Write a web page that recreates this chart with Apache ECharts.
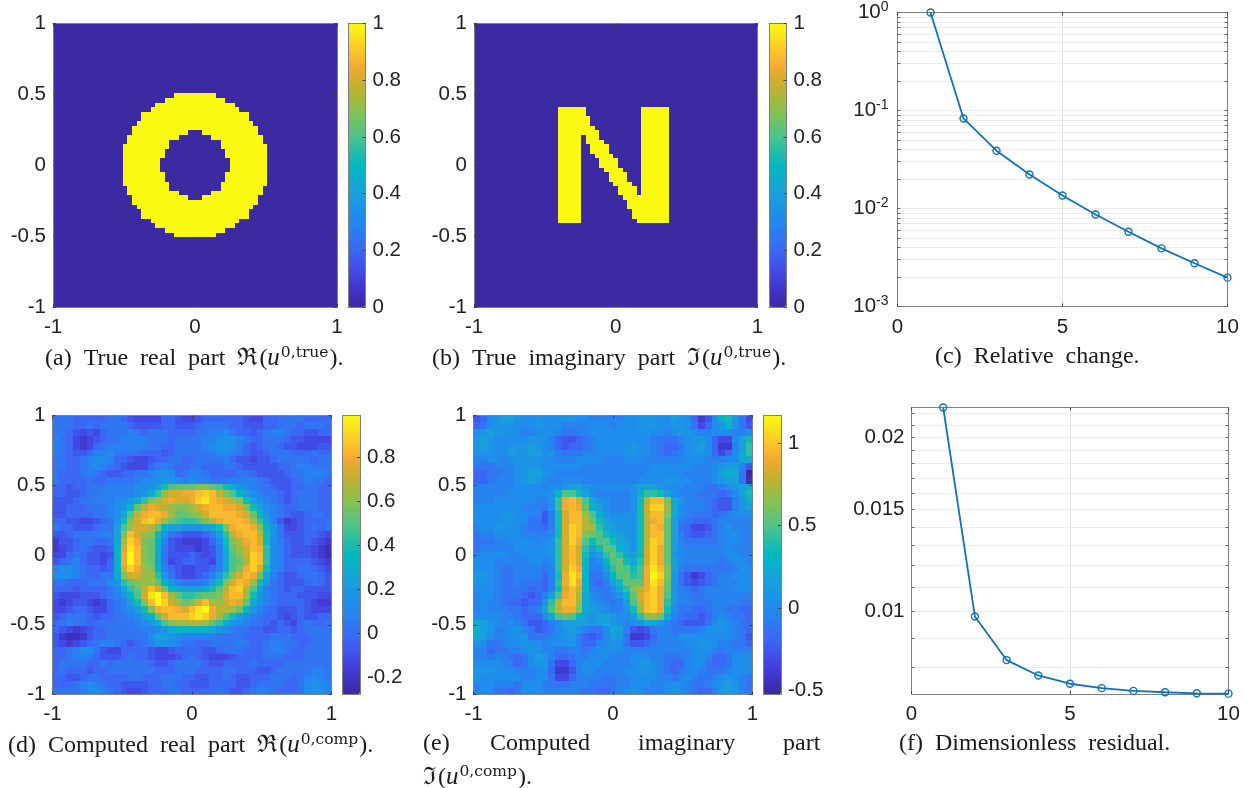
<!DOCTYPE html>
<html><head><meta charset="utf-8">
<script src="https://cdn.jsdelivr.net/npm/echarts@6/dist/echarts.min.js"></script>
<style>html,body{margin:0;padding:0;background:#fff}#c{width:1255px;height:788px}</style>
</head><body><div id="c"></div>
<script>
// ---- data ----
const iterations = [1,2,3,4,5,6,7,8,9,10];
const relativeChange = [1,0.083,0.0389,0.0222,0.01356,0.00869,0.00579,0.00392,0.00276,0.00197];
const residual = [0.0225,0.0098,0.00824,0.00775,0.0075,0.00737,0.00729,0.00725,0.00722,0.00721];
const relMajorTicks = [0.001,0.01,0.1,1];
const relAllTicks = [0.001,0.002,0.003,0.004,0.005,0.006,0.007,0.008,0.009,0.01,0.02,0.03,0.04,0.05,0.06,0.07,0.08,0.09,0.1,0.2,0.3,0.4,0.5,0.6,0.7,0.8,0.9,1];
const resMajorTicks = [0.01,0.015,0.02];
const resAllTicks = [0.008,0.009,0.01,0.011,0.012,0.013,0.014,0.015,0.016,0.017,0.018,0.019,0.02,0.021,0.022];
const barTicksTrue = [0,0.2,0.4,0.6,0.8,1];
const barTicksReal = [-0.2,0,0.2,0.4,0.6,0.8];
const barTicksImag = [-0.5,0,0.5,1];
// true real part: width of the filled ring and of its hole, per row, rows 15..45 of 61
const ringFirstRow = 15;
const ringWidths = [9,13,17,19,23,23,25,27,27,29,29,31,31,31,31,31,31,31,31,31,29,29,27,27,25,23,23,19,17,13,9];
const holeWidths = [0,0,0,0,0,0,0,0,3,7,11,11,13,13,15,15,15,13,13,11,11,7,3,0,0,0,0,0,0,0,0];
// true imaginary part: [row, first column, end column] runs on the 61 grid
const letterRuns = [
[18,18,24],[18,36,42],[19,18,24],[19,36,42],[20,18,25],[20,36,42],[21,18,25],[21,36,42],
[22,18,26],[22,36,42],[23,18,27],[23,36,42],[24,18,23],[24,24,27],[24,36,42],[25,18,23],[25,24,28],[25,36,42],
[26,18,23],[26,25,29],[26,36,42],[27,18,23],[27,25,29],[27,36,42],[28,18,23],[28,26,30],[28,36,42],
[29,18,23],[29,27,31],[29,36,42],[30,18,23],[30,27,31],[30,36,42],[31,18,23],[31,28,32],[31,36,42],
[32,18,23],[32,29,33],[32,36,42],[33,18,23],[33,29,33],[33,36,42],[34,18,23],[34,30,34],[34,36,42],
[35,18,23],[35,31,35],[35,36,42],[36,18,23],[36,31,35],[36,36,42],[37,18,23],[37,32,42],[38,18,23],[38,33,42],
[39,18,23],[39,33,42],[40,18,23],[40,34,42],[41,18,23],[41,34,42],[42,18,23],[42,35,42]];
// computed fields, 41 x 41 cells; letter a..z = position between the colour-bar ends
const computedReal = [
"gggfffffgg feddddffed deffffffed dffggggfff f",
"gggffgfggg gfeeeeffee efggggffee effgggfggg f",
"ggfededfgg ghgfgggfff fgghhigffe fghhgffeef f",
"hgfdcdefgg hhhhgggfgg gghhijjhgf fgggfeeddd d",
"hgfdcdfghh hhhhggffgg gghijjihfe fggfeeddde e",
"hgfeefhhig gggfffefgg ggghiihgfe efgggfffgf f",
"ggffghiihf feddeffggf fgggghfeed eefgggggfg g",
"ggffghihgf edddfghgff ggfffggfee eeeffghhgg g",
"gfffghgfee ffgghijifg hhgffffggf eeeefgghhh g",
"gffffgffgg gghiiijjih ihhggghhhh gfeeefghgg f",
"ffeffggghh hhiijknpqq qrrqpnljih ggfeeffggf f",
"ffeefgghhh hhijlosuuv vwxwtrpmki hggfefgggf f",
"eeefgghhhi ijlorsuvuu vxywvutrnk ihgfefgggf f",
"eefffggghi jmqtvutsrr suvwwvvurn kihgffgggf f",
"eeffffgghi lptvwwvsqq rsuwwwwvuq mjhgfeefgg f",
"ffeeddefgj nruwxvsqpo oprtvwwwvs okhecdefff g",
"gffeeefggk psuutqmkkj jjklnrvwwv rmjgddefgf g",
"eefgggghhk rwusrnjgfe eefhkotvww tnjgeeeffe d",
"ceefggffgl txvrqmhedc ccdfinrtvw unihfeefed c",
"cdefgfeefm uywrqlgedd dcdehmqsuw voihfeeedc b",
"ddfgfeedem vzwrqlgeee fedehlprux woihfeeedc b",
"efghfeedfm vzwrqlgdef feedhlpqtx woihffffed c",
"hiihgffefm uxvsrmhfed deefhlprvx unihffggfe d",
"iiihgffggl ruussojged defhkoruwv qlhfeefggf e",
"ggfffgggij oqrssqmjhg gghknruwvs njgfeeefgf e",
"fffeffffgi loqtwuqmlk kklnqtwxtp khgfeffeee e",
"edddeeefgh jmpuyzwsqo opqqruwwsn jhgfffeeed d",
"dcdeedcdfg hknrwzxusq ruwssuvuql ihgffffedc c",
"ddeffeddfg hiknrvwwvu wyzvttsqmj hgfeeefedd d",
"efgggfeffg ghikmquwww xyxvspnkih gffedefeef f",
"fghggffggg gghijmprss ttsqoljihg gfefedfgff g",
"fedcdeffgg ggghhijlmm mmmljihggf feeffefggg g",
"ecbbceffgg ggggikkjih hhhhggggff ffgggfffgg g",
"edcdefghhg fefghjjihg gffgggghgf fghhggffgg g",
"ffghiigedd ffffeddeff ffeefgggff fghhgffggg g",
"ffghhhfeee fgffedddef gfedddefff fgggfffggg g",
"fggggffgfg ggggfeefgg ggfeeffffg ffffgggggg g",
"fgfffeffgg gggggfffgg gffffggfff eefggggghh g",
"ffeefggfff fggfffgggf feeffgfeef ffgggfghih g",
"fffghihgff eeeeffggff eeeffffeef ggggffgiji h",
"gggghiihgf eddefffggf ffffgfeefg hhgfffgiji h"
];
const computedImag = [
"efijkkjiij iiijjiihhh hhiijjjiik jifceimnjg d",
"fgijjjiiij iiihhhhiii hiiijjjiij jigdfijmjg e",
"ijkjjiihhi iihgghhiii iiiiijiihi jjihhiiihh i",
"jkjiiiiijj ihfeefghii iiiiiihggg hijjifddik n",
"jkjiijjjkj ihfeffghii iiijiihgff gijkifcchk o",
"jjjiikjjkk ijhggghhii iijjiihgfg hijjifdfil o",
"hhiihijjjj iihhhiiiih hhiiihhhhh hiiihhhiil l",
"ggghhhijjj iiiiiihhhh hhhhhhiiii iihhhijkkh e",
"ffgghhijkk jihhhhhhhh hhhhhiiiii ihhhhikmlg a",
"ffghhhijkj ihhiiihhhh hhhhiiiijj iihhhijkkg b",
"hhhhhhiiii hiijkkjiii iiijkkkjii ihhhgghijk l",
"hhhhhiiiii ijmppnkihh hhhiloonki hhhgggfgik n",
"hhhiiiiiih hjovwuplji hhhintwwrl jhhhgfeehj m",
"iiiiiiihhh giovwvqmki hhhinuxxsl ihhhgfeehj k",
"iiiijjiihh ehnuwwsplj iiijntwwrl ihgggfghii i",
"iiiijjiigg ehnuwwtqnk jjjjntvwqk hgfffghhhh h",
"hiijjiihgg fhnuxwtsol kjjjntwvqk gfddeghihh h",
"ghhiiiihhh hinuxwrqpn lkjjntwwqk hfeefghiih h",
"ggghhiiiih ijouxvpnpp nlkjntxwqk hggggghiih h",
"ghhhhhiiii ijouwuoknq pmkjnuxvqk ihhhhhhihh h",
"hiiiihhiii ijouwuniko qolknuxvqj ihhhhhhiih h",
"iiihhhhhii hiouwumhim pqnlouxvqk ihhhhhghii h",
"iiihgghhhh ghouxvmhhk oqpnpvywrk hggggggghi i",
"jjihgghhhh fhnvywmggi mpqopvzxrj gecdfghhii i",
"jjihgghggg fhovyvmgfh knqqqvywqj gedefghhhi i",
"iiihggggfg fhnuwumhgg ilortvxvqj hgfghhhhii i",
"hiihgggfef hkpvwtlihg hjmquwxvpj hhgghhhhhh h",
"hihhgffeff jotwwsljih ghkptwxvoj hhggghhhhg g",
"hihhhggfgh kptvvrlkji hhjnswxvni ggffghhggf f",
"iiiihhgfff ilpqpmkjkk jiikorsqlh gffefhihgg f",
"lkjihihgee fhikkkkjkk jihijlljhg feeegijihg f",
"mkjhhijhge fgijkjhggi lkhedeghhg ggghijjihg f",
"lkihhiijgg ghijjhfefi kjgccdfhhh iiiiiiiihg e",
"jigghiijii hiiijhffhi jigeefghhh hiijjihhgg f",
"hhfgghhijj hhgghhghii iihhhhhhhh hhiiihghhh h",
"hhghhgfgik jhffghhiii hhhiiihhgg ghiihffgii i",
"iiiihhfgij jgddfhiiih hhhijjihgf fhiigffgii i",
"jjjiiihhhi ifccehiihh hhiijjihgf ghihggghii i",
"jiiiiiihhi igddfhhhhg ghhiiiihhg hihgghijih g",
"hiihhhgiii hggghhhggg ghhiiihhii ihgghijkjh g",
"hiiggfgiii hhhhhhggff ghijihhhij ihgffhjkjh g"
];
// ---- layout and styles ----
const TF = 'Liberation Sans', SF = 'Liberation Serif';
const parula = ['#3b2aa2','#3f32c0','#4340dd','#3f54ec','#3a68f5','#2f78f2','#2188ee','#1c94e6','#1a9fdc','#0eacce','#03b8bf','#25bea6','#4cc38a','#6cc26c','#8ec04c','#b0b63a','#d4ad2c','#f6ab34','#fcc42a','#fae01e','#f9f911'];
const AX = '#808080', TK = '#444';
const labelStyle = {color:'#222',fontFamily:TF,fontSize:20.5};
const opt = {animation:false,backgroundColor:'#fff',grid:[],xAxis:[],yAxis:[],series:[],visualMap:[],title:[]};
const cellIndex = n => Array.from({length:n},(_,i)=>i);

function valueAxis(gi,pos,extra){
  return Object.assign({type:'value',gridIndex:gi,position:pos,z:6,
    axisLine:{show:true,onZero:false,lineStyle:{color:AX,width:1}},
    axisTick:{show:true,inside:true,length:3,lineStyle:{color:TK,width:1}},
    axisLabel:{show:false},splitLine:{show:false}},extra);
}
const shown = m => ({axisLabel:Object.assign({show:true,margin:m},labelStyle,{hideOverlap:false,showMinLabel:true,showMaxLabel:true})});

function renderCell(params,api){
  const p = api.coord([api.value(0),api.value(1)]);
  const s = api.size([1,1]);
  const w = Math.abs(s[0])/2, h = Math.abs(s[1])/2;
  const x0 = Math.round(p[0]-w), x1 = Math.round(p[0]+w), y0 = Math.round(p[1]-h), y1 = Math.round(p[1]+h);
  return {type:'rect',shape:{x:x0,y:y0,width:x1-x0,height:y1-y0},style:{fill:api.visual('color')},silent:true};
}

function heatPanel(rect,bar,cells,n,vmin,vmax,barTicks){
  const gi = opt.grid.length;
  opt.grid.push({left:rect[0],top:rect[1],width:rect[2],height:rect[3],containLabel:false});
  const xi = opt.xAxis.length, yi = opt.yAxis.length;
  const cats = cellIndex(n);
  opt.xAxis.push({type:'category',gridIndex:gi,data:cats,show:false});
  opt.yAxis.push({type:'category',gridIndex:gi,data:cats,show:false,inverse:true});
  const xl = shown(n===61?10:9), yl = shown(7);
  opt.xAxis.push(valueAxis(gi,'bottom',Object.assign({min:-1,max:1,interval:1},xl)));
  opt.xAxis.push(valueAxis(gi,'top',{min:-1,max:1,interval:1}));
  opt.yAxis.push(valueAxis(gi,'left',Object.assign({min:-1,max:1,interval:0.5},yl)));
  opt.yAxis.push(valueAxis(gi,'right',{min:-1,max:1,interval:0.5}));
  const si = opt.series.length;
  opt.series.push({type:'custom',xAxisIndex:xi,yAxisIndex:yi,data:cells,silent:true,clip:true,progressive:0,
    renderItem:renderCell,encode:{x:0,y:1},z:2});
  opt.visualMap.push({type:'continuous',seriesIndex:si,dimension:2,min:vmin,max:vmax,left:bar[0],top:bar[1],
    itemWidth:bar[2],itemHeight:bar[3],padding:0,showLabel:false,text:null,calculable:false,realtime:false,
    hoverLink:false,inRange:{color:parula},textStyle:{fontSize:0}});
  // colour-bar axis
  const gb = opt.grid.length;
  opt.grid.push({left:bar[0],top:bar[1],width:bar[2],height:bar[3]});
  opt.xAxis.push({type:'value',gridIndex:gb,min:0,max:1,show:false});
  opt.yAxis.push(valueAxis(gb,'right',{min:vmin,max:vmax,z:8,
    axisTick:{show:true,inside:true,length:3,customValues:barTicks,lineStyle:{color:TK,width:1}},
    axisLabel:Object.assign({show:true,margin:7,customValues:barTicks},labelStyle)}));
  opt.xAxis.push({type:'value',gridIndex:gb,min:0,max:1,position:'top',show:true,z:8,axisTick:{show:false},axisLabel:{show:false},splitLine:{show:false},axisLine:{onZero:false,lineStyle:{color:AX}}});
  opt.xAxis.push({type:'value',gridIndex:gb,min:0,max:1,position:'bottom',show:true,z:8,axisTick:{show:false},axisLabel:{show:false},splitLine:{show:false},axisLine:{onZero:false,lineStyle:{color:AX}}});
  opt.yAxis.push({type:'value',gridIndex:gb,min:vmin,max:vmax,position:'left',z:8,axisTick:{show:false},axisLabel:{show:false},splitLine:{show:false},axisLine:{show:true,onZero:false,lineStyle:{color:AX}}});
}

function linePanel(rect,values,ymin,ymax,major,all,fmt,richLab,ym){
  const gi = opt.grid.length;
  opt.grid.push({left:rect[0],top:rect[1],width:rect[2],height:rect[3]});
  const xi = opt.xAxis.length, yi = opt.yAxis.length;
  opt.xAxis.push(valueAxis(gi,'bottom',Object.assign({min:0,max:10,interval:5,
    splitLine:{show:true,lineStyle:{color:'#e2e2e2',width:1}}},shown(10))));
  opt.xAxis.push(valueAxis(gi,'top',{min:0,max:10,interval:5}));
  const logAxis = (pos,lab) => ({type:'log',logBase:10,gridIndex:gi,position:pos,min:ymin,max:ymax,z:6,
    axisLine:{show:true,onZero:false,lineStyle:{color:AX,width:1}},
    axisTick:{show:true,inside:true,length:3,customValues:all,lineStyle:{color:'#666',width:1}},
    splitLine:{show:lab,lineStyle:{color:'#ececec',width:1}},
    axisLabel:lab?Object.assign({show:true,margin:ym,customValues:major,formatter:fmt,rich:richLab},labelStyle):{show:false}});
  opt.yAxis.push(logAxis('left',true));
  opt.yAxis.push(logAxis('right',false));
  opt.series.push({type:'line',xAxisIndex:xi,yAxisIndex:yi,clip:false,silent:true,
    data:iterations.map((x,i)=>[x,values[i]]),symbol:'circle',symbolSize:7,showAllSymbol:true,
    lineStyle:{color:'#0f72bd',width:1.8},itemStyle:{color:'rgba(0,0,0,0)',borderColor:'#0f72bd',borderWidth:1.4},z:9});
}

function caption(text,x,y){
  opt.title.push({text,left:x,top:y,padding:0,textStyle:{fontFamily:SF,fontSize:24,fontWeight:'normal',color:'#1a1a1a',
    rich:{r:{fontFamily:SF,fontSize:24,color:'#1a1a1a'},
      m:{fontFamily:'DejaVu Serif',fontSize:24,color:'#1a1a1a',padding:[0,2,0,0]},
      i:{fontFamily:SF,fontStyle:'italic',fontSize:25,color:'#1a1a1a'},
      s:{fontFamily:'DejaVu Serif',fontSize:15.5,color:'#1a1a1a',padding:[0,1,11,1]}}}});
}

// ---- build cells from the named arrays ----
const realCells=[], imagCells=[];
{
  const a = cellIndex(61).map(()=>new Array(61).fill(0));
  ringWidths.forEach((w,k)=>{
    const h = holeWidths[k], r = ringFirstRow+k;
    for(let c=30-(w-1)/2;c<=30+(w-1)/2;c++) a[r][c]=1;
    if(h) for(let c=30-(h-1)/2;c<=30+(h-1)/2;c++) a[r][c]=0;
  });
  a.forEach((row,r)=>row.forEach((v,c)=>realCells.push([c,r,v])));
  const b = cellIndex(61).map(()=>new Array(61).fill(0));
  letterRuns.forEach(([r,s,e])=>{for(let c=s;c<e;c++) b[r][c]=1;});
  b.forEach((row,r)=>row.forEach((v,c)=>imagCells.push([c,r,v])));
}
const decode = (rows,vmin,vmax)=>{
  const out=[];
  rows.forEach((t,r)=>{
    const s=t.replace(/\s/g,'');
    for(let c=0;c<41;c++){
      const ch=s[Math.min(c,s.length-1)];
      out.push([c,r,+(vmin+(ch.charCodeAt(0)-97)/25*(vmax-vmin)).toFixed(3)]);
    }
  });
  return out;
};

heatPanel([53,23.5,284,283.5],[348,23.5,17.5,283.5],realCells,61,0,1,barTicksTrue);
heatPanel([474,23.5,283.5,283.5],[769,23.5,17.5,283.5],imagCells,61,0,1,barTicksTrue);
heatPanel([52.5,415.5,279,279],[342.5,415.5,17.5,279],decode(computedReal,-0.276,0.99),41,-0.276,0.99,barTicksReal);
heatPanel([473.5,415.5,279,279],[763.5,415.5,17.5,279],decode(computedImag,-0.524,1.166),41,-0.524,1.166,barTicksImag);

const powFmt = v => '{b|10}{s|'+Math.round(Math.log10(v))+'}';
const powRich = {b:{fontFamily:TF,fontSize:20.5,color:'#222'},s:{fontFamily:TF,fontSize:14,color:'#222',padding:[0,0,11,0]}};
linePanel([897.5,11.5,330,295],relativeChange,0.001,1,relMajorTicks,relAllTicks,powFmt,powRich,9);
linePanel([911.5,407.5,317,286.5],residual,0.0072,0.0225,resMajorTicks,resAllTicks,v=>String(+v.toFixed(3)),undefined,7);

caption('{r|(a)  True  real  part  }{m|ℜ}{r|(}{i|u}{s|0,true}{r|).}',45,345);
caption('{r|(b)  True  imaginary  part  }{m|ℑ}{r|(}{i|u}{s|0,true}{r|).}',432,345);
caption('{r|(c)  Relative  change.}',935,345);
caption('{r|(d)  Computed  real  part  }{m|ℜ}{r|(}{i|u}{s|0,comp}{r|).}',8,732);
caption('{r|(e)}',423,732);
caption('{r|Computed}',490,732);
caption('{r|imaginary}',638,732);
caption('{r|part}',783,732);
caption('{m|ℑ}{r|(}{i|u}{s|0,comp}{r|).}',423,764);
caption('{r|(f)  Dimensionless  residual.}',899,732);

const chart = echarts.init(document.getElementById('c'),null,{renderer:'canvas'});
chart.setOption(opt);
</script></body></html>
